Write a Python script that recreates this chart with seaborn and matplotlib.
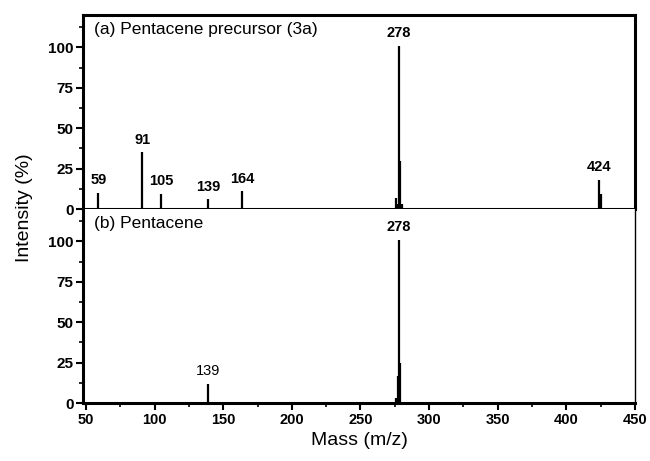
#!/usr/bin/env python3
"""Mass spectra of pentacene precursor (3a) and pentacene."""

import matplotlib.pyplot as plt
import matplotlib.ticker as ticker
import seaborn as sns

# (a) Pentacene precursor (3a)
mass_a = [59, 91, 105, 139, 164, 276, 277, 278, 279, 280, 424, 425]
inten_a = [10, 35, 9.5, 6, 11, 7, 3, 101, 30, 3, 18, 9]
labels_a = {59: "59", 91: "91", 105: "105", 139: "139", 164: "164",
            278: "278", 424: "424"}

# (b) Pentacene
mass_b = [139, 276, 277, 278, 279]
inten_b = [12, 3, 17, 101, 25]
labels_b = {139: "139", 278: "278"}

xticks = [50, 100, 150, 200, 250, 300, 350, 400, 450]
yticks = [0, 25, 50, 75, 100]

sns.set_style("ticks")
plt.rcParams["font.family"] = ["Liberation Sans", "DejaVu Sans"]
plt.rcParams.update({
    "text.color": "black",
    "axes.edgecolor": "black",
    "axes.labelcolor": "black",
    "xtick.color": "black",
    "ytick.color": "black",
})

fig = plt.figure(figsize=(6.5, 4.61), dpi=100)
ax_a = fig.add_axes([0.128, 0.5466, 0.849, 0.4208])
ax_b = fig.add_axes([0.128, 0.1258, 0.849, 0.4208], sharex=ax_a)


def draw(ax, mass, inten, labels, bold):
    ax.vlines(mass, 0, inten, color="black", linewidth=1.6)
    for m, v in zip(mass, inten):
        if m in labels:
            ax.annotate(labels[m], xy=(m, v), xytext=(0, 4),
                        textcoords="offset points", ha="center", va="bottom",
                        fontsize=10.5,
                        fontweight="bold" if m in bold else "normal")
    ax.set_ylim(0, 120)
    ax.set_xlim(48, 450)
    ax.yaxis.set_major_locator(ticker.FixedLocator(yticks))
    ax.yaxis.set_minor_locator(ticker.MultipleLocator(12.5))
    ax.tick_params(axis="y", which="major", direction="out", length=5,
                   width=1.5, labelsize=11, pad=2)
    ax.tick_params(axis="y", which="minor", direction="out", length=3,
                   width=1.2)
    for lab in ax.get_yticklabels():
        lab.set_fontweight("bold")


draw(ax_a, mass_a, inten_a, labels_a, set(labels_a))
draw(ax_b, mass_b, inten_b, labels_b, {278})

# top panel: thick full frame, no x ticks
for sp in ax_a.spines.values():
    sp.set_linewidth(2.2)
ax_a.tick_params(axis="x", which="both", bottom=False, labelbottom=False)
ax_a.text(0.02, 0.965, "(a) Pentacene precursor (3a)", transform=ax_a.transAxes,
          ha="left", va="top", fontsize=12.5)

# bottom panel
ax_b.spines["top"].set_visible(False)
ax_b.spines["left"].set_linewidth(2.2)
ax_b.spines["bottom"].set_linewidth(2.2)
ax_b.spines["right"].set_linewidth(1.0)
ax_b.xaxis.set_major_locator(ticker.FixedLocator(xticks))
ax_b.xaxis.set_minor_locator(ticker.MultipleLocator(25))
ax_b.tick_params(axis="x", which="major", direction="out", length=5,
                 width=1.5, labelsize=10.5, pad=2)
ax_b.tick_params(axis="x", which="minor", direction="out", length=3,
                 width=1.2)
for lab in ax_b.get_xticklabels():
    lab.set_fontweight("bold")
ax_b.text(0.02, 0.965, "(b) Pentacene", transform=ax_b.transAxes,
          ha="left", va="top", fontsize=12.5)
ax_b.set_xlabel("Mass (m/z)", fontsize=14, labelpad=4)

fig.text(0.038, 0.55, "Intensity (%)", rotation=90, ha="center",
         va="center", fontsize=14)

fig.savefig("out.png", dpi=100)
plt.close(fig)
